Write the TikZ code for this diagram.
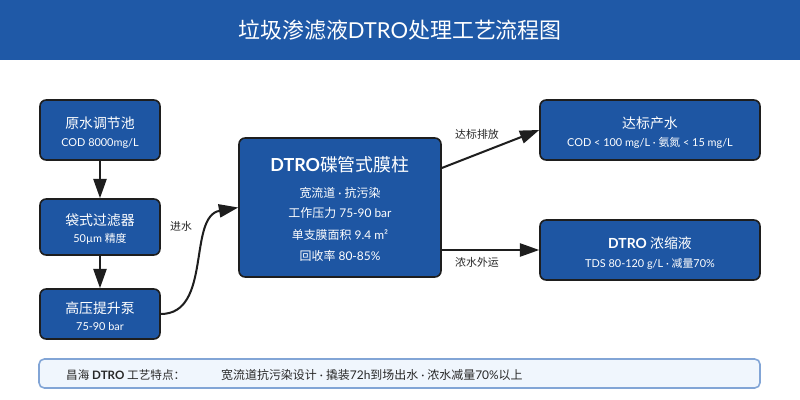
\documentclass[tikz,border=0pt]{standalone}
\usepackage{fontspec}
\setmainfont{Lato}
\newfontfamily\zhfont{Noto Sans CJK SC}
\newcommand{\zh}[1]{{\zhfont\mdseries #1}}
\usetikzlibrary{positioning,arrows.meta}
\definecolor{hdrblue}{RGB}{31,89,167}
\definecolor{boxblue}{RGB}{30,86,163}
\definecolor{edgedark}{RGB}{30,30,30}
\definecolor{notebg}{RGB}{240,246,253}
\definecolor{noteline}{RGB}{130,165,214}
\definecolor{inkgray}{RGB}{40,40,40}

\tikzset{
  stage/.style={draw=edgedark, line width=0.9pt, fill=boxblue, rounded corners=3.5pt, inner sep=0pt},
  ttl/.style={text=white, font=\fontsize{7.9pt}{9pt}\selectfont},
  subtxt/.style={text=white, font=\fontsize{6.2pt}{7.5pt}\selectfont},
  flow/.style={draw=edgedark, line width=1.15pt, -{Triangle[length=11pt,width=7.5pt]}},
  lbl/.style={text=inkgray, font=\fontsize{6.2pt}{7.5pt}\selectfont},
}

\begin{document}
\begin{tikzpicture}[x=1cm,y=1cm]
\useasboundingbox[fill=white] (0,0) rectangle (16,-8);
% header
\fill[hdrblue] (0,0) rectangle (16,-1.2);
\node[text=white, font=\fontsize{12.5pt}{14pt}\selectfont] (title) at (8,-0.6) {\zh{垃圾渗滤液}DTRO\zh{处理工艺流程图}};

% pretreatment column
\node[stage, minimum width=2.4cm, minimum height=1.2cm] (raw) at (2,-2.6) {};
\node[ttl] (raw-t) at ([yshift=0.14cm]raw.center) {\zh{原水调节池}};
\node[subtxt] (raw-s) at ([yshift=-0.26cm]raw.center) {COD 8000mg/L};

\node[stage, minimum width=2.4cm, minimum height=1.12cm] (filter) at (2,-4.54) {};
\node[ttl] (filter-t) at ([yshift=0.14cm]filter.center) {\zh{袋式过滤器}};
\node[subtxt] (filter-s) at ([yshift=-0.24cm]filter.center) {50µm \zh{精度}};

\node[stage, minimum width=2.4cm, minimum height=1.0cm] (pump) at (2,-6.28) {};
\node[ttl] (pump-t) at ([yshift=0.12cm]pump.center) {\zh{高压提升泵}};
\node[subtxt] (pump-s) at ([yshift=-0.26cm]pump.center) {75-90 bar};

% membrane
\node[stage, minimum width=4.04cm, minimum height=2.78cm] (dtro) at (6.8,-4.15) {};
\node[text=white, font=\bfseries\fontsize{10.2pt}{12pt}\selectfont] (dtro-t) at ([yshift=0.85cm]dtro.center) {DTRO\zh{碟管式膜柱}};
\node[text=white, font=\fontsize{6.8pt}{8pt}\selectfont] (dtro-a) at ([yshift=0.29cm]dtro.center) {\zh{宽流道} · \zh{抗污染}};
\node[text=white, font=\fontsize{6.8pt}{8pt}\selectfont] (dtro-b) at ([yshift=-0.11cm]dtro.center) {\zh{工作压力} 75-90 bar};
\node[text=white, font=\fontsize{6.8pt}{8pt}\selectfont] (dtro-c) at ([yshift=-0.55cm]dtro.center) {\zh{单支膜面积} 9.4 m²};
\node[text=white, font=\fontsize{6.8pt}{8pt}\selectfont] (dtro-d) at ([yshift=-0.97cm]dtro.center) {\zh{回收率} 80-85\%};

% outputs
\node[stage, minimum width=4.4cm, minimum height=1.2cm] (product) at (13,-2.6) {};
\node[ttl] (product-t) at ([yshift=0.14cm]product.center) {\zh{达标产水}};
\node[subtxt] (product-s) at ([yshift=-0.26cm]product.center) {COD < 100 mg/L · \zh{氨氮} < 15 mg/L};

\node[stage, minimum width=4.4cm, minimum height=1.2cm] (brine) at (13,-5.0) {};
\node[ttl, font=\bfseries\fontsize{7.9pt}{9pt}\selectfont] (brine-t) at ([yshift=0.14cm]brine.center) {DTRO \zh{浓缩液}};
\node[subtxt] (brine-s) at ([yshift=-0.28cm]brine.center) {TDS 80-120 g/L · \zh{减量}70\%};

% connectors
\draw[flow] (raw) -- (filter);
\draw[flow] (filter) -- (pump);
\draw[flow] (pump.east) to[out=0,in=190] (dtro.west);
\draw[flow] ([yshift=0.79cm]dtro.east) -- (product.west);
\draw[flow] (dtro.east |- brine.west) -- (brine.west);
\node[lbl] (feed) at (3.62,-4.52) {\zh{进水}};
\node[lbl] (pass) at (9.54,-2.68) {\zh{达标排放}};
\node[lbl] (haul) at (9.54,-5.24) {\zh{浓水外运}};

% footer note
\node[draw=noteline, line width=0.9pt, fill=notebg, rounded corners=3pt, minimum width=14.42cm, minimum height=0.58cm] (note) at (7.99,-7.47) {};
\node[anchor=west, text=inkgray, font=\bfseries\fontsize{6.6pt}{8pt}\selectfont] (note-k) at (1.2,-7.5) {\zh{昌海} DTRO \zh{工艺特点：}};
\node[anchor=west, text=inkgray, font=\fontsize{6.8pt}{8pt}\selectfont] (note-v) at (4.3,-7.5) {\zh{宽流道抗污染设计} · \zh{撬装}72h\zh{到场出水} · \zh{浓水减量}70\%\zh{以上}};
\end{tikzpicture}
\end{document}
